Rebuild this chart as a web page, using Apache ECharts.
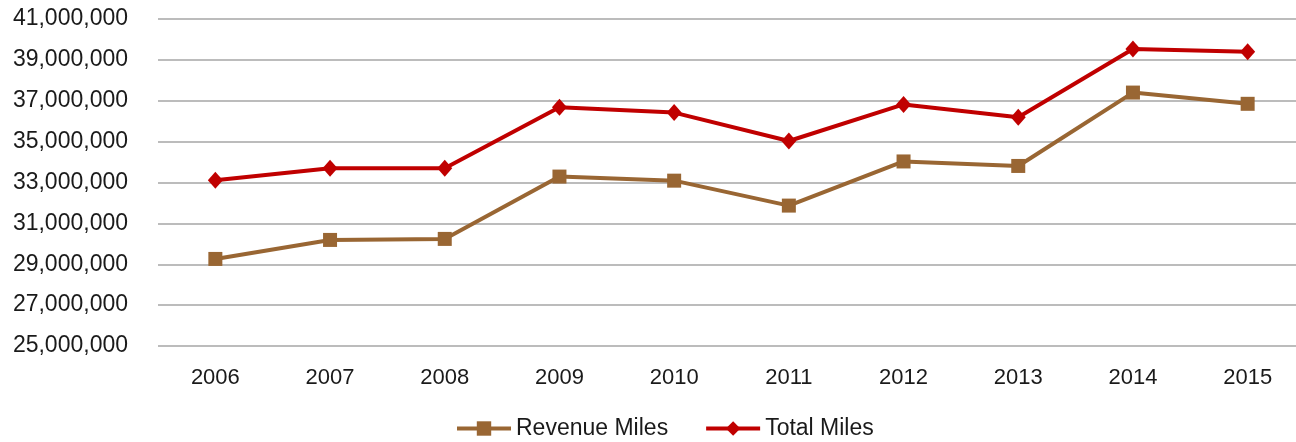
<!DOCTYPE html>
<html>
<head>
<meta charset="utf-8">
<script src="https://cdn.jsdelivr.net/npm/echarts@6/dist/echarts.min.js"></script>
<style>
html,body{margin:0;padding:0;background:#fff;}
#chart{width:1296px;height:442px;}
</style>
</head>
<body>
<div id="chart"></div>
<script>
const categories = ['2006','2007','2008','2009','2010','2011','2012','2013','2014','2015'];
const revenueMiles = [29260000, 30190000, 30240000, 33290000, 33090000, 31870000, 34030000, 33810000, 37400000, 36850000];
const totalMiles = [33110000, 33700000, 33700000, 36680000, 36420000, 35030000, 36820000, 36190000, 39530000, 39400000];
const seriesNames = ['Revenue Miles', 'Total Miles'];
const yMin = 25000000, yMax = 41000000, yStep = 2000000;

const FONT = '"Liberation Sans", Arial, sans-serif';
const chart = echarts.init(document.getElementById('chart'), null, {renderer: 'canvas'});
chart.setOption({
  animation: false,
  backgroundColor: '#ffffff',
  textStyle: {fontFamily: FONT},
  grid: {left: 158, right: -9, top: 19, bottom: 96, containLabel: false, outerBoundsMode: 'none'},
  legend: {
    data: seriesNames,
    top: 412,
    left: 450,
    padding: 5,
    itemWidth: 54,
    itemHeight: 18,
    itemGap: 36,
    lineStyle: {width: 4},
    textStyle: {fontFamily: FONT, fontSize: 23, color: '#1a1a1a'}
  },
  xAxis: {
    type: 'category',
    data: categories,
    boundaryGap: true,
    axisLine: {show: false},
    axisTick: {show: false},
    axisLabel: {fontFamily: FONT, fontSize: 22, color: '#1a1a1a', margin: 21}
  },
  yAxis: {
    type: 'value',
    min: yMin, max: yMax, interval: yStep,
    axisLine: {show: false},
    axisTick: {show: false},
    splitLine: {lineStyle: {color: '#a6a6a6', width: 1.5}},
    axisLabel: {
      fontFamily: FONT, fontSize: 23, color: '#1a1a1a', margin: 30,
      formatter: v => v.toLocaleString('en-US')
    }
  },
  series: [
    {
      name: seriesNames[0], type: 'line', data: revenueMiles,
      symbol: 'rect', symbolSize: 14,
      lineStyle: {color: '#996633', width: 4},
      itemStyle: {color: '#996633'},
      z: 2
    },
    {
      name: seriesNames[1], type: 'line', data: totalMiles,
      symbol: 'diamond', symbolSize: [15, 17],
      lineStyle: {color: '#c00000', width: 4},
      itemStyle: {color: '#c00000'},
      z: 3
    }
  ]
});
</script>
</body>
</html>
